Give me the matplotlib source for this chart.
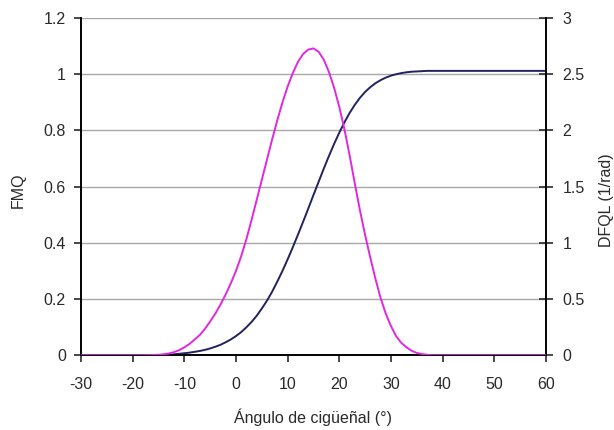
import matplotlib
matplotlib.use("Agg")
import matplotlib.pyplot as plt

plt.rcParams['font.family'] = ['Liberation Sans', 'DejaVu Sans']
plt.rcParams['axes.unicode_minus'] = False

# crank angle (deg)
angle = [-30, -26, -22, -18, -16, -15,
         -14, -13, -12, -11, -10, -9, -8, -7, -6, -5, -4, -3, -2, -1,
         0, 1, 2, 3, 4, 5, 6, 7, 8, 9, 10, 11, 12, 13, 14, 15, 16, 17, 18, 19,
         20, 21, 22, 23, 24, 25, 26, 27, 28, 29, 30, 31, 32, 33, 34, 35, 36, 37,
         38, 40, 45, 50, 55, 60]

# mass fraction burned (left axis)
fmq = [0, 0, 0, 0, 0, 0,
       0.001, 0.002, 0.003, 0.005, 0.007, 0.009, 0.012, 0.015, 0.019, 0.024,
       0.030, 0.037, 0.046, 0.056,
       0.068, 0.082, 0.099, 0.118, 0.140, 0.166, 0.194, 0.226, 0.262, 0.300,
       0.341, 0.384, 0.429, 0.475, 0.522, 0.570, 0.617, 0.664, 0.709, 0.752,
       0.792, 0.829, 0.862, 0.891, 0.916, 0.937, 0.954, 0.968, 0.979, 0.988,
       0.995, 1.000, 1.004, 1.007, 1.009, 1.010, 1.011, 1.012,
       1.012, 1.012, 1.012, 1.012, 1.012, 1.012]

# burn rate in 1/rad (right axis)
dfql = [0, 0, 0, 0, 0.002, 0.004,
        0.008, 0.015, 0.027, 0.045, 0.07, 0.10, 0.14, 0.18, 0.235, 0.30,
        0.37, 0.45, 0.54, 0.64,
        0.75, 0.88, 1.03, 1.20, 1.38, 1.56, 1.74, 1.92, 2.09, 2.25,
        2.39, 2.51, 2.61, 2.68, 2.72, 2.73, 2.70, 2.63, 2.52, 2.38,
        2.21, 2.01, 1.78, 1.53, 1.29, 1.07, 0.87, 0.68, 0.51, 0.37,
        0.26, 0.17, 0.11, 0.07, 0.04, 0.02, 0.01, 0.004,
        0, 0, 0, 0, 0, 0]

xticks = [-30, -20, -10, 0, 10, 20, 30, 40, 50, 60]
left_ticks = [0, 0.2, 0.4, 0.6, 0.8, 1, 1.2]
left_labels = ['0', '0.2', '0.4', '0.6', '0.8', '1', '1.2']
right_ticks = [0, 0.5, 1, 1.5, 2, 2.5, 3]
right_labels = ['0', '0.5', '1', '1.5', '2', '2.5', '3']

TXT = '#2a2a2a'
FS = 11.5

fig = plt.figure(figsize=(6.14, 4.3), dpi=100)
ax = fig.add_axes([0.132, 0.174, 0.757, 0.784])
ax2 = ax.twinx()

ax.plot(angle, fmq, color='#22225e', lw=1.4, zorder=3)
ax2.plot(angle, dfql, color='#e028e0', lw=1.4, zorder=3)

ax.set_xlim(-30, 60)
ax.set_ylim(0, 1.2)
ax2.set_ylim(0, 3)
ax.set_xticks(xticks)
ax.set_yticks(left_ticks)
ax.set_yticklabels(left_labels)
ax2.set_yticks(right_ticks)
ax2.set_yticklabels(right_labels)

ax.grid(axis='y', color='#a8a8a8', lw=1)
ax.set_axisbelow(True)

for a in (ax, ax2):
    a.spines['top'].set_visible(False)
    a.spines['left'].set_linewidth(1.2)
    a.spines['right'].set_linewidth(1.2)
    a.spines['bottom'].set_linewidth(1.2)
ax.tick_params(axis='y', direction='out', length=5, width=1.2, pad=6,
               labelsize=FS, colors=TXT)
ax.tick_params(axis='x', direction='out', length=5, width=1.2, pad=11,
               labelsize=FS, colors=TXT)
ax2.tick_params(axis='y', direction='inout', length=10, width=1.2, pad=7,
                labelsize=FS, colors=TXT)

ax.set_xlabel('Ángulo de cigüeñal (°)', fontsize=FS, color=TXT)
ax.set_ylabel('FMQ', fontsize=FS, color=TXT)
ax2.set_ylabel('DFQL (1/rad)', fontsize=FS, color=TXT)
ax.xaxis.label.set_va('center')
ax.yaxis.label.set_va('center')
ax2.yaxis.label.set_va('center')
ax.xaxis.set_label_coords(0.5, -0.184)
ax.yaxis.set_label_coords(-0.135, 0.49)
ax2.yaxis.set_label_coords(1.131, 0.46)

fig.savefig('out.png', dpi=100)
